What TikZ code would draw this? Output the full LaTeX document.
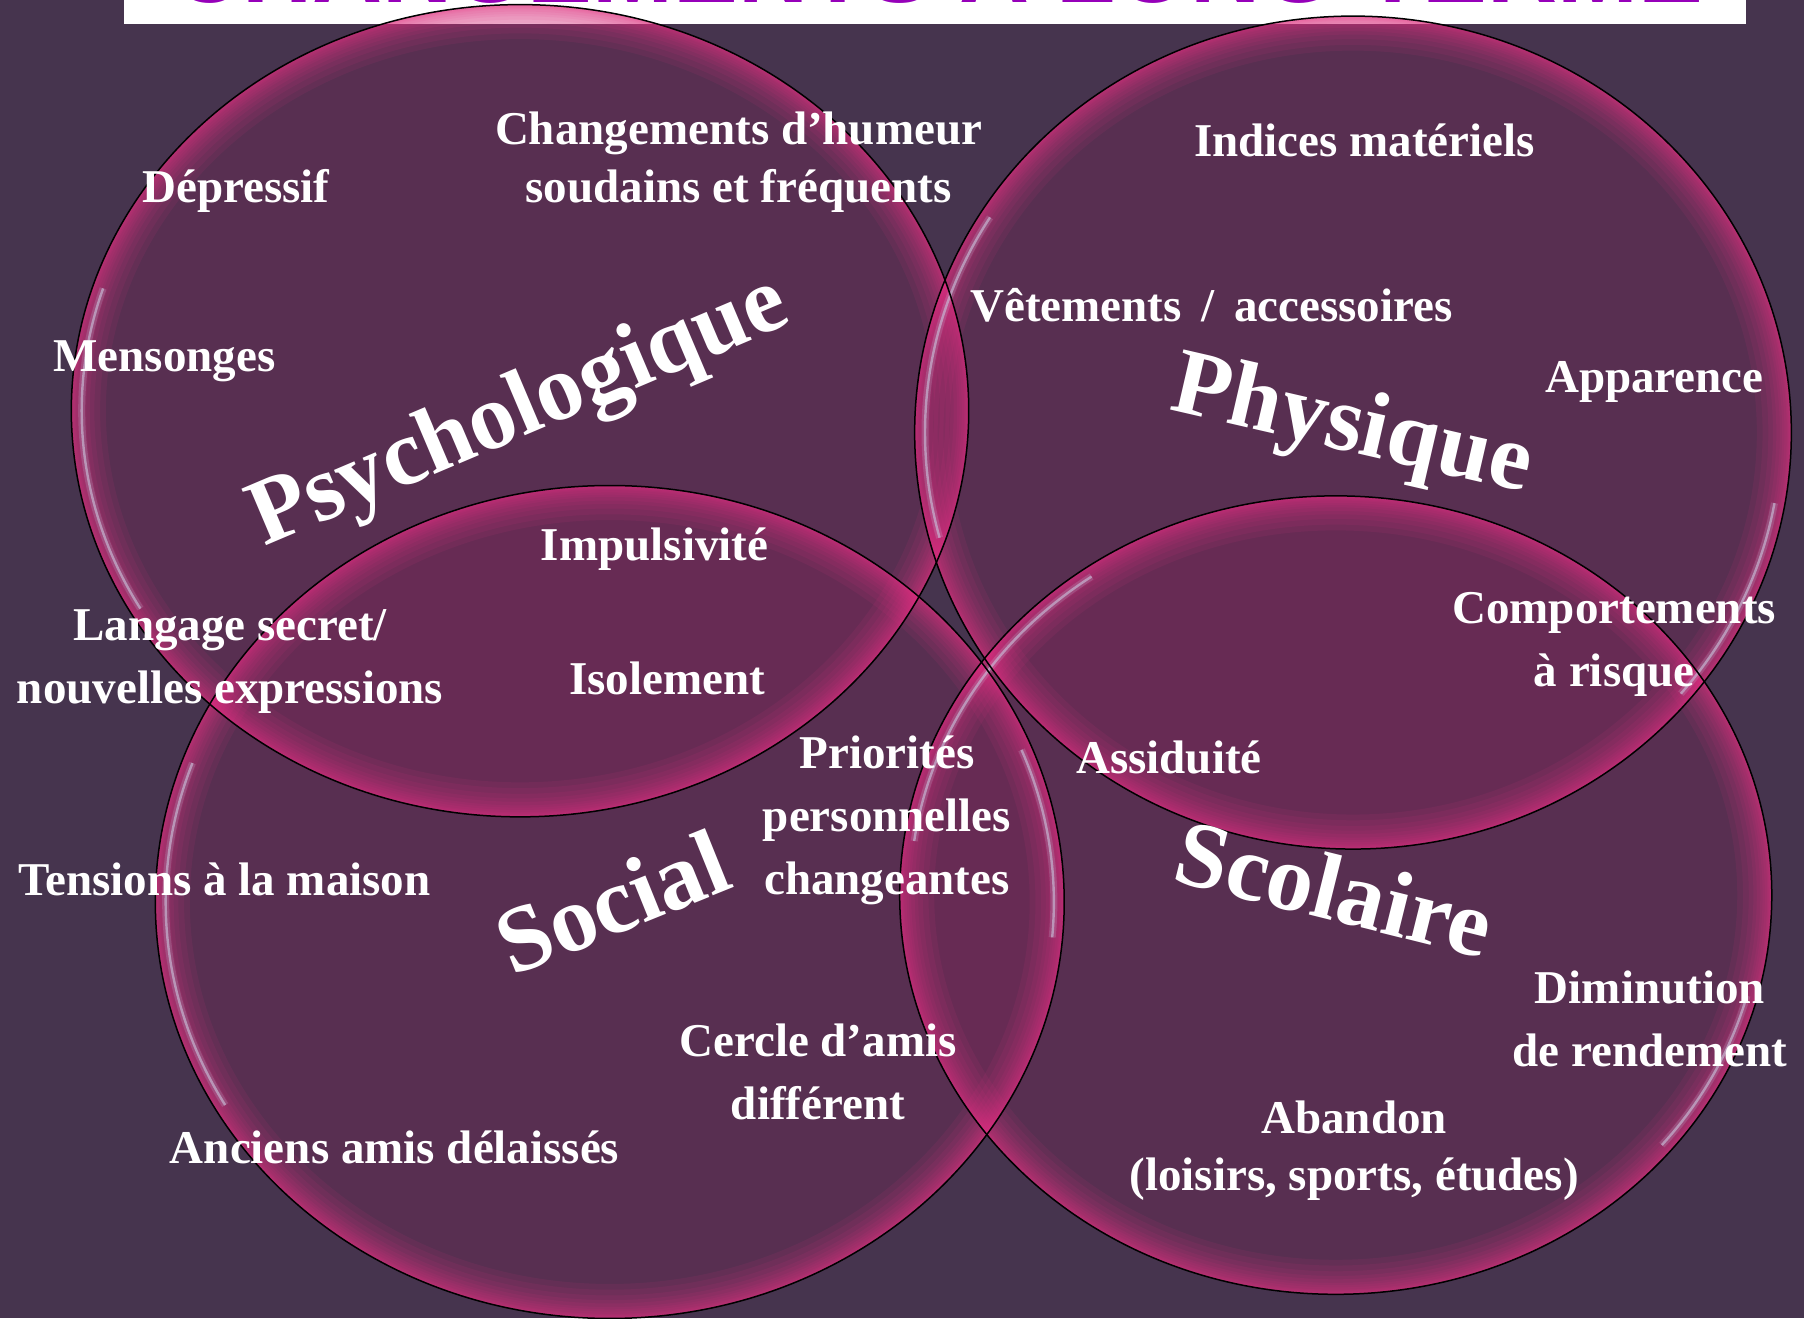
\documentclass[tikz,border=0pt]{standalone}
\usepackage{fontspec}
\setmainfont{Liberation Serif}
\newfontfamily\titlesans{Liberation Sans}
\definecolor{bgcol}{RGB}{70,52,78}
\definecolor{bubble}{RGB}{175,25,100}
\definecolor{rim}{RGB}{232,55,135}
\definecolor{shine}{RGB}{200,188,215}
\definecolor{titlepurple}{RGB}{150,0,185}
\newcommand{\bubblefill}[3]{\fill[bubble, fill opacity=0.18] (#1) ellipse [x radius=#2, y radius=#3];}
\newcommand{\bubbleglow}[3]{%
  \begin{scope}
    \clip (#1) ellipse [x radius=#2, y radius=#3];
    \foreach \w in {34.5pt,28.75pt,23pt,18.4pt,15pt,11.5pt,9.2pt,6.9pt,4.6pt,3.45pt,2.3pt,1.15pt}
      \draw[rim, line width=\w, draw opacity=0.09] (#1) ellipse [x radius=#2, y radius=#3];
  \end{scope}}
\newcommand{\bubbleline}[3]{\draw[black, line width=0.75pt] (#1) ellipse [x radius=#2, y radius=#3];}
\newcommand{\bubbleshine}[5]{%
  \draw[shine, line width=3.5pt, draw opacity=0.22, shift={(#1)}] (#4:{#2-9} and {#3-9}) arc[start angle=#4, end angle=#5, x radius=#2-9, y radius=#3-9];
  \draw[shine, line width=1.2pt, draw opacity=0.65, shift={(#1)}] (#4:{#2-9} and {#3-9}) arc[start angle=#4, end angle=#5, x radius=#2-9, y radius=#3-9];}
\tikzset{
  lbl/.style={text=white, font=\fontsize{23.5pt}{31.5pt}\selectfont\bfseries, align=center, inner sep=0pt},
  tight/.style={font=\fontsize{23.5pt}{28.75pt}\selectfont\bfseries},
  biglbl/.style={text=white, font=\fontsize{47pt}{53pt}\selectfont\bfseries, inner sep=0pt},
  titletext/.style={text=titlepurple, font=\titlesans\bfseries\fontsize{48.5pt}{50pt}\selectfont, inner sep=0pt, anchor=base}
}
\begin{document}
\begin{tikzpicture}[x=0.575pt, y=-0.575pt]
\useasboundingbox (0,0) rectangle (1568,1146);
\fill[bgcol] (0,0) rectangle (1568,1146);
% title banner
\fill[white] (108,0) rectangle (1518,20.5);
\begin{scope}
  \clip (108,0) rectangle (1518,20.5);
  \node[titletext] (title) at (815,1.8) {CHANGEMENTS À LONG TERME};
\end{scope}
% bubble centres
\coordinate (P) at (452,357);
\coordinate (H) at (1176,376);
\coordinate (S) at (530,784);
\coordinate (C) at (1161,778);
% fills
\bubblefill{P}{390}{353}
\bubblefill{H}{381}{362}
\bubblefill{S}{395}{362}
\bubblefill{C}{379}{347}
% inner rim glow
\bubbleglow{P}{390}{353}
\bubbleglow{H}{381}{362}
\bubbleglow{S}{395}{362}
\bubbleglow{C}{379}{347}
% glossy highlights
\bubbleshine{P}{390}{353}{150}{198}
\bubbleshine{H}{381}{362}{165}{212}
\bubbleshine{H}{381}{362}{10}{40}
\bubbleshine{S}{395}{362}{150}{200}
\bubbleshine{S}{395}{362}{-22}{5}
\bubbleshine{C}{379}{347}{188}{235}
\bubbleshine{C}{379}{347}{15}{40}
% outlines
\bubbleline{P}{390}{353}
\bubbleline{H}{381}{362}
\bubbleline{S}{395}{362}
\bubbleline{C}{379}{347}
% big labels
\node[biglbl, rotate=23] (psy) at (452,360) {Psychologique};
\node[biglbl, rotate=-13] (phy) at (1175,373) {Physique};
\node[biglbl, rotate=22] (soc) at (532,784) {Social};
\node[biglbl, rotate=-14] (sco) at (1160,772) {Scolaire};
% item labels
\node[lbl] (depr) at (205,166) {Dépressif};
\node[lbl, tight] (humeur) at (642,141) {Changements d’humeur\\soudains et fréquents};
\node[lbl] (mens) at (143,314) {Mensonges};
\node[lbl] (indices) at (1186,122) {Indices matériels};
\node[lbl] (vet) at (1053,265) {Vêtements \,/\, accessoires};
\node[lbl] (app) at (1438,332) {Apparence};
\node[lbl] (impul) at (569,477) {Impulsivité};
\node[lbl] (lang) at (200,575) {Langage secret/\\nouvelles expressions};
\node[lbl] (isol) at (580,590) {Isolement};
\node[lbl] (comp) at (1403,560) {Comportements\\à risque};
\node[lbl] (prio) at (771,713) {Priorités\\personnelles\\changeantes};
\node[lbl] (assid) at (1016,658) {Assiduité};
\node[lbl] (tens) at (195,764) {Tensions à la maison};
\node[lbl] (cercle) at (711,932) {Cercle d’amis\\différent};
\node[lbl] (dimin) at (1434,886) {Diminution\\de rendement};
\node[lbl] (anciens) at (343,997) {Anciens amis délaissés};
\node[lbl, tight] (aband) at (1177,1000) {Abandon\\(loisirs, sports, études)};
\end{tikzpicture}
\end{document}
